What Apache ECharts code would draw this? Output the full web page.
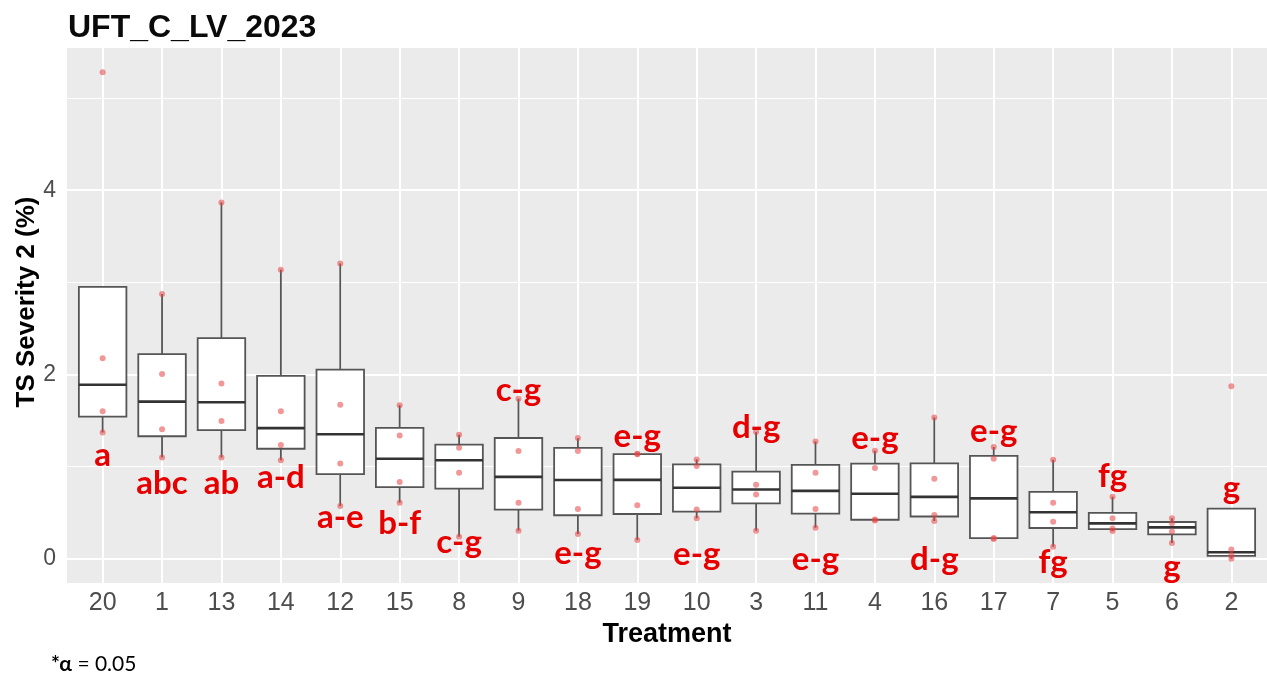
<!DOCTYPE html>
<html>
<head>
<meta charset="utf-8">
<script src="https://cdn.jsdelivr.net/npm/echarts@6/dist/echarts.min.js"></script>
<style>
  html, body { margin: 0; padding: 0; background: #ffffff; }
  #chart { width: 1267px; height: 681px; }
</style>
</head>
<body>
<div id="chart"></div>
<script>
// Treatments in plotting order (sorted by descending median severity)
const treatments = ['20', '1', '13', '14', '12', '15', '8', '9', '18', '19',
                    '10', '3', '11', '4', '16', '17', '7', '5', '6', '2'];

// TS Severity 2 (%) observations, four replicates per treatment, same order
const severityObs = [
  [5.28, 2.175, 1.60, 1.37],     // 20
  [2.874, 2.004, 1.406, 1.099],  // 1
  [3.868, 1.903, 1.495, 1.099],  // 13
  [3.138, 1.60, 1.235, 1.068],   // 14
  [3.204, 1.67, 1.033, 0.571],   // 12
  [1.667, 1.338, 0.832, 0.608],  // 15
  [1.345, 1.204, 0.933, 0.239],  // 8
  [1.736, 1.168, 0.608, 0.304],  // 9
  [1.309, 1.168, 0.539, 0.268],  // 18
  [1.14, 1.133, 0.579, 0.203],   // 19
  [1.078, 1.005, 0.535, 0.438],  // 10
  [1.374, 0.803, 0.698, 0.304],  // 3
  [1.273, 0.933, 0.539, 0.336],  // 11
  [1.172, 0.985, 0.425, 0.415],  // 4
  [1.533, 0.868, 0.474, 0.409],  // 16
  [1.212, 1.085, 0.225, 0.215],  // 17
  [1.074, 0.608, 0.401, 0.130],  // 7
  [0.673, 0.438, 0.329, 0.300],  // 5
  [0.438, 0.385, 0.295, 0.170],  // 6
  [1.873, 0.101, 0.040, 0.000]   // 2
];

// Mean-separation letters (alpha = 0.05)
const groupLetters = ['a', 'abc', 'ab', 'a-d', 'a-e', 'b-f', 'c-g', 'c-g', 'e-g', 'e-g',
                      'e-g', 'd-g', 'e-g', 'e-g', 'd-g', 'e-g', 'fg', 'fg', 'g', 'g'];

// Y-axis tick labels
const yTicks = [0, 2, 4];

// Vertical anchor of each letter annotation, in severity units
const letterAnchor = [1.126, 0.822, 0.822, 0.887, 0.446, 0.386, 0.172, 1.826, 0.06, 1.325,
                      0.049, 1.428, -0.005, 1.308, -0.005, 1.38, -0.035, 0.898, -0.092, 0.764];

// R-style (type 7) quantile of a sorted array
function quantile(sorted, p) {
  const h = (sorted.length - 1) * p;
  const lo = Math.floor(h), hi = Math.ceil(h);
  return sorted[lo] + (h - lo) * (sorted[hi] - sorted[lo]);
}

// Tukey box statistics: whiskers reach the most extreme points within 1.5 IQR
function boxStats(values) {
  const s = values.slice().sort((a, b) => a - b);
  const q1 = quantile(s, 0.25), med = quantile(s, 0.5), q3 = quantile(s, 0.75);
  const iqr = q3 - q1;
  const lo = Math.min.apply(null, s.filter(v => v >= q1 - 1.5 * iqr));
  const hi = Math.max.apply(null, s.filter(v => v <= q3 + 1.5 * iqr));
  return [lo, q1, med, q3, hi];
}

const boxData = severityObs.map((vals, i) => [i].concat(boxStats(vals)));
const pointData = [];
severityObs.forEach((vals, i) => vals.forEach(v => pointData.push([i, v])));
const letterData = groupLetters.map((t, i) => [i, letterAnchor[i]]);

const yMin = -0.264, yMax = 5.544;   // data range expanded by 5 %
const catIdx = treatments.map((_, i) => i);

const majorY = yTicks.map(v => ({ yAxis: v, lineStyle: { width: 2 } }));
const minorY = [1, 3, 5].map(v => ({ yAxis: v, lineStyle: { width: 1 } }));
const vertX = catIdx.map(i => ({ xAxis: i, lineStyle: { width: 2 } }));

const chart = echarts.init(document.getElementById('chart'), null, { renderer: 'canvas' });

chart.setOption({
  animation: false,
  backgroundColor: '#ffffff',
  title: {
    text: 'UFT_C_LV_2023',
    left: 63,
    top: 7,
    textStyle: { fontFamily: 'Liberation Sans', fontWeight: 'bold', fontSize: 32, color: '#0a0a0a' }
  },
  grid: {
    left: 67, right: -4, top: 48, bottom: 98,
    show: true, backgroundColor: '#ebebeb', borderWidth: 0
  },
  xAxis: {
    type: 'value',
    min: -0.6, max: 19.6,
    name: 'Treatment',
    nameLocation: 'middle',
    nameGap: 37,
    nameTextStyle: { fontFamily: 'Liberation Sans', fontWeight: 'bold', fontSize: 27, color: '#000000' },
    axisLine: { show: false },
    splitLine: { show: false },
    axisTick: { show: true, customValues: catIdx, length: 5, lineStyle: { color: '#444444', width: 1 } },
    axisLabel: {
      customValues: catIdx,
      formatter: v => treatments[Math.round(v)],
      fontFamily: 'Liberation Sans', fontSize: 25, color: '#4d4d4d', margin: 8
    }
  },
  yAxis: {
    type: 'value',
    min: yMin, max: yMax,
    axisLine: { show: false },
    splitLine: { show: false },
    axisTick: { show: true, customValues: yTicks, length: 5, lineStyle: { color: '#444444', width: 1 } },
    axisLabel: {
      customValues: yTicks,
      fontFamily: 'Liberation Sans', fontSize: 23, color: '#4d4d4d', margin: 11
    }
  },
  graphic: [
    {
      type: 'text',
      x: 27, y: 302,
      rotation: Math.PI / 2,
      style: {
        text: 'TS Severity 2 (%)',
        fontFamily: 'Liberation Sans', fontWeight: 'bold', fontSize: 26, fill: '#000000',
        align: 'center', verticalAlign: 'middle'
      }
    },
    {
      type: 'text',
      x: 51, y: 664,
      style: {
        text: '{b|*α} = 0.05',
        rich: {
          b: { fontFamily: 'Lato', fontWeight: 'bold', fontSize: 21, fill: '#000000' }
        },
        fontFamily: 'Lato', fontSize: 21, fill: '#000000',
        verticalAlign: 'middle'
      }
    }
  ],
  series: [
    {
      // panel grid lines
      type: 'line',
      data: [],
      z: 1,
      silent: true,
      markLine: {
        z: 1,
        silent: true,
        symbol: 'none',
        label: { show: false },
        lineStyle: { color: '#ffffff', type: 'solid' },
        data: minorY.concat(majorY, vertX)
      }
    },
    {
      type: 'custom',
      z: 3,
      data: boxData,
      encode: { x: 0, y: [1, 2, 3, 4, 5] },
      renderItem: function (params, api) {
        const x = api.value(0);
        const lo = api.value(1), q1 = api.value(2), med = api.value(3), q3 = api.value(4), hi = api.value(5);
        const pLo = api.coord([x, lo]), pQ1 = api.coord([x, q1]), pMed = api.coord([x, med]);
        const pQ3 = api.coord([x, q3]), pHi = api.coord([x, hi]);
        const half = api.size([0.8, 0])[0] / 2;
        const cx = pMed[0];
        const stroke = '#555555';
        const children = [];
        if (hi > q3) {
          children.push({ type: 'line', shape: { x1: cx, y1: pHi[1], x2: cx, y2: pQ3[1] },
            style: { stroke: stroke, lineWidth: 1.8 } });
        }
        if (lo < q1) {
          children.push({ type: 'line', shape: { x1: cx, y1: pQ1[1], x2: cx, y2: pLo[1] },
            style: { stroke: stroke, lineWidth: 1.8 } });
        }
        children.push({ type: 'rect', shape: { x: cx - half, y: pQ3[1], width: half * 2, height: pQ1[1] - pQ3[1] },
          style: { fill: '#ffffff', stroke: stroke, lineWidth: 1.8 } });
        children.push({ type: 'line', shape: { x1: cx - half, y1: pMed[1], x2: cx + half, y2: pMed[1] },
          style: { stroke: '#333333', lineWidth: 2.6 } });
        return { type: 'group', children: children };
      }
    },
    {
      type: 'scatter',
      z: 4,
      data: pointData,
      symbol: 'circle',
      symbolSize: 6,
      itemStyle: { color: 'rgba(230, 70, 70, 0.7)' },
      silent: true
    },
    {
      type: 'custom',
      z: 5,
      data: letterData,
      encode: { x: 0, y: 1 },
      renderItem: function (params, api) {
        const p = api.coord([api.value(0), api.value(1)]);
        return {
          type: 'text',
          x: p[0], y: p[1],
          style: {
            text: groupLetters[params.dataIndex],
            fontFamily: 'Lato', fontWeight: 'bold', fontSize: 33, fill: '#e60000',
            align: 'center', verticalAlign: 'middle'
          }
        };
      }
    }
  ]
});
</script>
</body>
</html>
